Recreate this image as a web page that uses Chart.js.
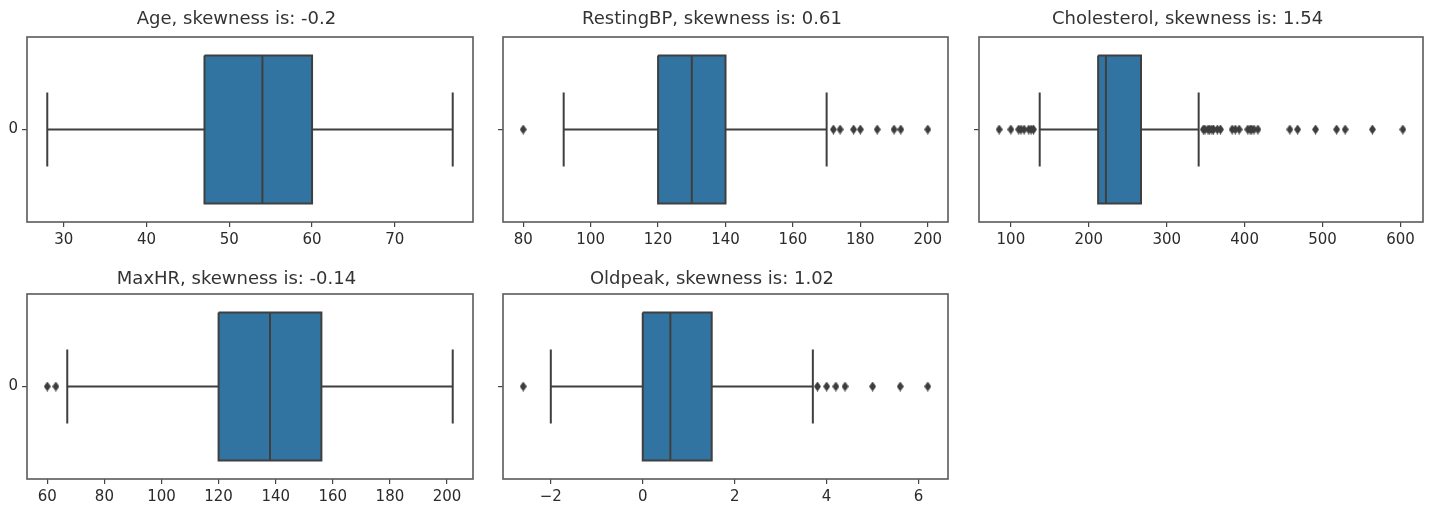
<!DOCTYPE html>
<html>
<head>
<meta charset="utf-8">
<script src="https://cdn.jsdelivr.net/npm/chart.js@4.4.0/dist/chart.umd.min.js"></script>
<style>
  body { margin: 0; background: #fff; width: 1429px; height: 510px; overflow: hidden; position: relative; }
  .panel { position: absolute; }
</style>
</head>
<body>
<div class="panel" style="left:0px;top:0px;width:476px;height:254px"><canvas id="c0"></canvas></div>
<div class="panel" style="left:476px;top:0px;width:475px;height:254px"><canvas id="c1"></canvas></div>
<div class="panel" style="left:952px;top:0px;width:474px;height:254px"><canvas id="c2"></canvas></div>
<div class="panel" style="left:0px;top:257px;width:476px;height:254px"><canvas id="c3"></canvas></div>
<div class="panel" style="left:476px;top:257px;width:475px;height:254px"><canvas id="c4"></canvas></div>

<script>
    // one box per feature
    var features = ['Age', 'RestingBP', 'Cholesterol', 'MaxHR', 'Oldpeak'];
    var skewness = ['-0.2', '0.61', '1.54', '-0.14', '1.02'];
    var whiskerLow  = [28, 92, 137, 67, -2];
    var q1          = [47, 120, 212, 120, 0];
    var median      = [54, 130, 222, 138, 0.6];
    var q3          = [60, 140, 267, 156, 1.5];
    var whiskerHigh = [77, 170, 341, 202, 3.7];
    var outliers = [
        [],
        [80, 172, 174, 178, 180, 185, 190, 192, 200],
        [85, 100, 110, 113, 117, 123, 126, 129, 347, 349, 353, 355, 358, 360, 365, 369,
         384, 388, 393, 404, 407, 409, 412, 417, 458, 468, 491, 518, 529, 564, 603],
        [60, 63],
        [-2.6, 3.8, 4.0, 4.2, 4.4, 5.0, 5.6, 6.2]
    ];
    var xTicks = [
        [30, 40, 50, 60, 70],
        [80, 100, 120, 140, 160, 180, 200],
        [100, 200, 300, 400, 500, 600],
        [60, 80, 100, 120, 140, 160, 180, 200],
        [-2, 0, 2, 4, 6]
    ];
    var yLabel = ['0', '', '', '0', ''];

    var boxColor = '#3274a1';
    var lineColor = '#3f3f3f';
    var font = 'DejaVu Sans';

    // thin diamond for the fliers
    var diamond = document.createElement('canvas');
    diamond.width = 7; diamond.height = 10;
    var dctx = diamond.getContext('2d');
    dctx.fillStyle = '#3d3d3d';
    dctx.beginPath();
    dctx.moveTo(3.5, 0); dctx.lineTo(7, 5); dctx.lineTo(3.5, 10); dctx.lineTo(0, 5);
    dctx.closePath(); dctx.fill();

    var framePlugin = {
        id: 'frame',
        afterDraw: function (chart) {
            var a = chart.chartArea, ctx = chart.ctx;
            ctx.save();
            ctx.strokeStyle = '#5a5a5a';
            ctx.lineWidth = 1.6;
            ctx.strokeRect(a.left, a.top, a.right - a.left, a.bottom - a.top);
            ctx.restore();
        }
    };

    function seg(x0, y0, x1, y1, order) {
        return {
            data: [{x: x0, y: y0}, {x: x1, y: y1}],
            showLine: true, borderColor: lineColor, borderWidth: 2,
            pointRadius: 0, order: order
        };
    }

    function make_chart(i) {
        var lo = Math.min(whiskerLow[i], Math.min.apply(null, outliers[i].concat([whiskerLow[i]])));
        var hi = Math.max(whiskerHigh[i], Math.max.apply(null, outliers[i].concat([whiskerHigh[i]])));
        var pad = (hi - lo) * 0.05;

        var datasets = [
            {
                data: [{x: q1[i], y: -0.4}, {x: q3[i], y: -0.4}, {x: q3[i], y: 0.4},
                       {x: q1[i], y: 0.4}, {x: q1[i], y: -0.4}],
                showLine: true, fill: 'shape', backgroundColor: boxColor,
                borderColor: lineColor, borderWidth: 2, pointRadius: 0, order: 5
            },
            seg(whiskerLow[i], 0, q1[i], 0, 4),
            seg(q3[i], 0, whiskerHigh[i], 0, 4),
            seg(whiskerLow[i], -0.2, whiskerLow[i], 0.2, 4),
            seg(whiskerHigh[i], -0.2, whiskerHigh[i], 0.2, 4),
            seg(median[i], -0.4, median[i], 0.4, 1),
            {
                data: outliers[i].map(function (v) { return {x: v, y: 0}; }),
                pointStyle: diamond, pointRadius: 5, order: 0
            }
        ];

        new Chart(document.getElementById('c' + i), {
            type: 'scatter',
            data: {datasets: datasets},
            plugins: [framePlugin],
            options: {
                responsive: true,
                maintainAspectRatio: false,
                animation: false,
                events: [],
                layout: {autoPadding: false, padding: {top: 0, right: 3, bottom: 0, left: 0}},
                plugins: {
                    legend: {display: false},
                    tooltip: {enabled: false},
                    title: {
                        display: true,
                        text: features[i] + ', skewness is: ' + skewness[i],
                        color: '#333',
                        font: {family: font, size: 18, weight: 'normal'},
                        padding: i < 3 ? {top: 9, bottom: 6.4} : {top: 11.5, bottom: 3.9}
                    }
                },
                scales: {
                    x: {
                        type: 'linear',
                        min: lo - pad,
                        max: hi + pad,
                        afterBuildTicks: function (scale) {
                            scale.ticks = xTicks[i].map(function (v) { return {value: v}; });
                        },
                        afterFit: function (scale) {
                            scale.height = 32;
                            scale.paddingLeft = 0;
                            scale.paddingRight = 0;
                        },
                        border: {display: false},
                        grid: {drawOnChartArea: false, drawTicks: true, tickLength: 5, color: '#444', lineWidth: 1.2},
                        ticks: {
                            color: '#2b2b2b', padding: 4, maxRotation: 0, autoSkip: false,
                            font: {family: font, size: 15},
                            callback: function (v) { return String(v).replace('-', '\u2212'); }
                        }
                    },
                    y: {
                        type: 'linear',
                        min: -0.5,
                        max: 0.5,
                        reverse: true,
                        afterBuildTicks: function (scale) { scale.ticks = [{value: 0}]; },
                        afterFit: function (scale) {
                            scale.width = 27;
                            scale.paddingTop = 0;
                            scale.paddingBottom = 0;
                        },
                        border: {display: false},
                        grid: {drawOnChartArea: false, drawTicks: true, tickLength: 5, color: '#444', lineWidth: 1.2},
                        ticks: {
                            color: '#2b2b2b', padding: 4,
                            font: {family: font, size: 15},
                            callback: function () { return yLabel[i]; }
                        }
                    }
                }
            }
        });
    }

    for (var i = 0; i < features.length; i++) {
        make_chart(i);
    }
</script>
</body>
</html>
